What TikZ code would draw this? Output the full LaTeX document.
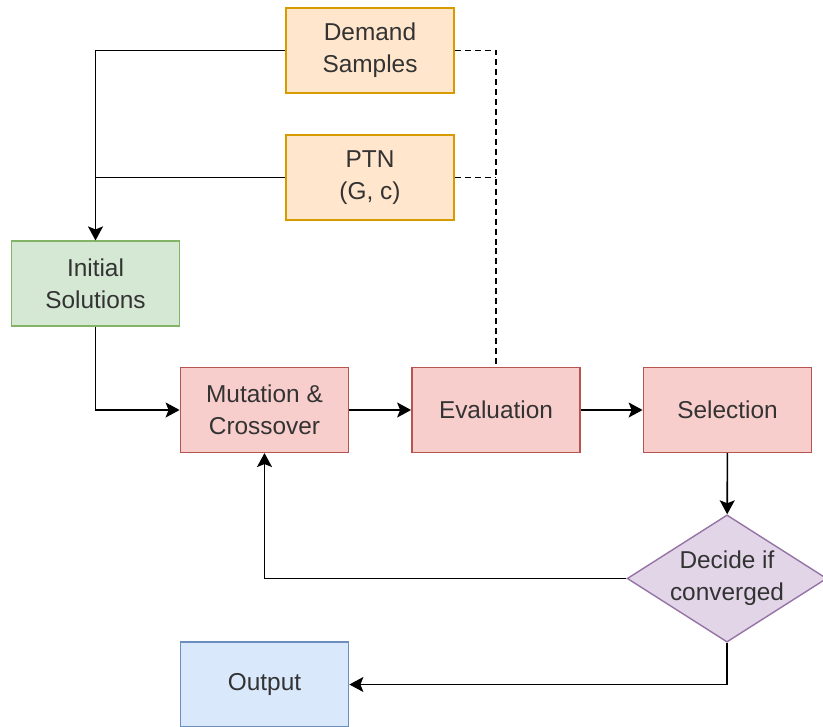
\documentclass[tikz,border=0pt]{standalone}
\usepackage{fontspec}
\setmainfont{Liberation Sans}
\usetikzlibrary{arrows.meta,shapes.geometric,calc}
\definecolor{orfill}{HTML}{FFE6CC}\definecolor{ordraw}{HTML}{D79B00}
\definecolor{grfill}{HTML}{D5E8D4}\definecolor{grdraw}{HTML}{82B366}
\definecolor{rdfill}{HTML}{F8CECC}\definecolor{rddraw}{HTML}{B85450}
\definecolor{pufill}{HTML}{E1D5E7}\definecolor{pudraw}{HTML}{9673A6}
\definecolor{blfill}{HTML}{DAE8FC}\definecolor{bldraw}{HTML}{6C8EBF}
\definecolor{txt}{HTML}{333333}
\tikzset{
    block/.style = {draw, rectangle, line width=1.4pt,
        minimum height=85, 
        minimum width=169, align=center, text=txt,
        font=\fontsize{24.5}{32}\selectfont},
    inputblock/.style = {block, fill=orfill, draw=ordraw},
    initblock/.style = {block, fill=grfill, draw=grdraw},
    stepblock/.style = {block, fill=rdfill, draw=rddraw},
    outblock/.style = {block, fill=blfill, draw=bldraw},
    decision/.style = {draw=pudraw, fill=pufill, diamond, aspect=1.57,
        line width=1.4pt, inner sep=0pt, minimum width=198, minimum height=126,
        align=center, text=txt, font=\fontsize{24.5}{32}\selectfont},
    arrow/.style = {draw, line width=1.6pt, -{Stealth[length=14bp,width=15bp,inset=3bp]}},
    line/.style = {draw, line width=1.6pt},
    dline/.style = {draw, line width=1.6pt, dash pattern=on 6pt off 4pt}
}

\begin{document}
\begin{tikzpicture}[x=1bp, y=-1bp]
    \useasboundingbox (0,0) rectangle (823,727);
    \node [inputblock] (demand) at (370,50.5) {Demand\\Samples};
    \node [inputblock] (ptn) at (370,177.5) {PTN\\(G, c)};
    \node [initblock] (init) at (95.5,283.5) {Initial\\Solutions};
    \node [stepblock] (mut) at (264.5,410) {Mutation \&\\Crossover};
    \node [stepblock] (eval) at (496,410) {Evaluation};
    \node [stepblock] (sel) at (727.5,410) {Selection};
    \node [decision] (dec) at (727,578.5) {Decide if\\converged};
    \node [outblock] (out) at (264.5,684.5) {Output};

    \draw [arrow] (demand.west) -| (init.north);
    \draw [line] (ptn.west) -- (ptn.west -| init.north);
    \draw [dline] (demand.east) -| (eval.north);
    \draw [dline] (ptn.east) -- (ptn.east -| eval.north);
    \draw [arrow] (init.south) |- (mut.west);
    \draw [arrow] (mut) -- (eval);
    \draw [arrow] (eval) -- (sel);
    \draw [arrow] (sel) -- (dec);
    \draw [arrow] (dec.west) -| (mut.south);
    \draw [arrow] (dec.south) |- (out.east);
\end{tikzpicture}
\end{document}
